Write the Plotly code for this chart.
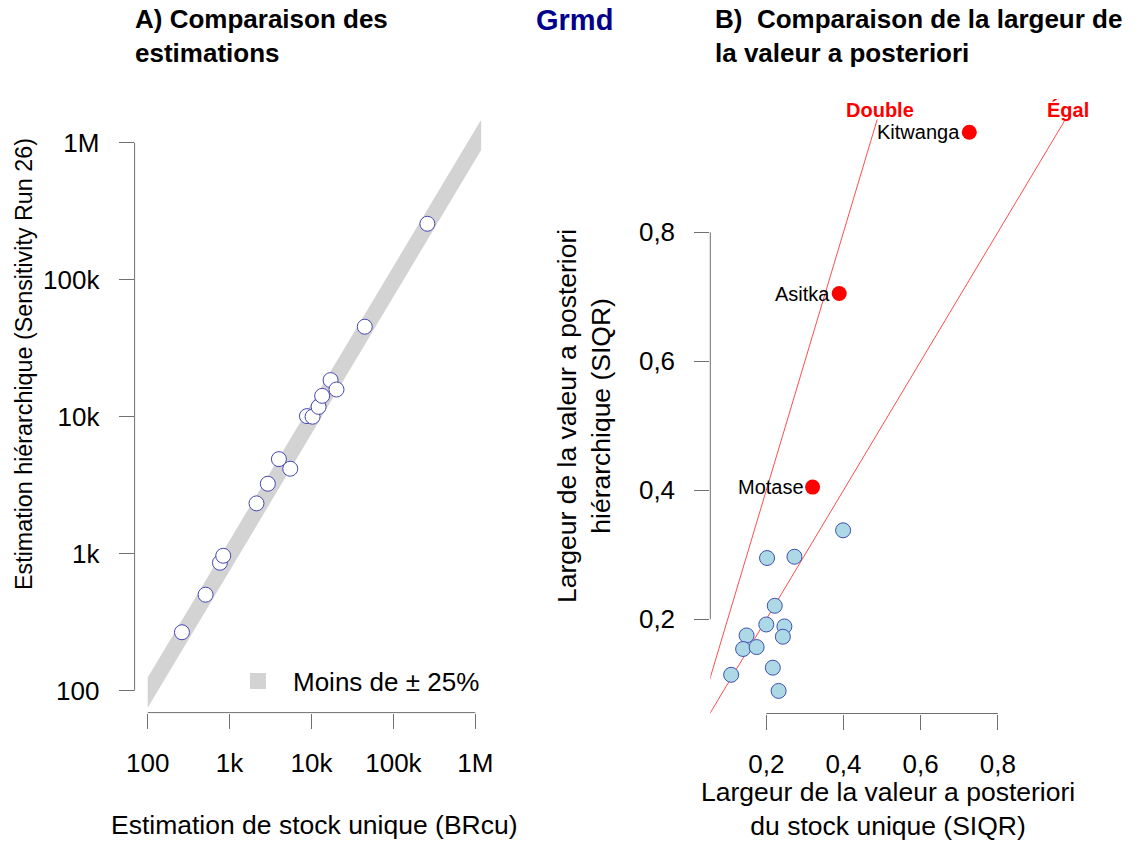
import plotly.graph_objects as go

# ---------------- Data ----------------
# Panel A: single-stock vs hierarchical estimates
single_est = [262, 509, 762, 836, 2130, 2930, 4000, 5500, 8800, 10300,
              12200, 13500, 17100, 20200, 44700, 260000]
hier_est = [267, 502, 859, 966, 2330, 3240, 4900, 4170, 10100, 10000,
            11800, 14200, 18500, 15800, 45400, 256000]
band_ratio = [0.75, 1.25]          # +/- 25 %
band_x = [100, 1.18e6]
a_tickvals = [100, 1e3, 1e4, 1e5, 1e6]
a_ticktext = ["100", "1k", "10k", "100k", "1M"]

# Panel B: posterior width (SIQR)
b_x = [0.399, 0.202, 0.273, 0.222, 0.200, 0.247, 0.243, 0.149, 0.140,
       0.175, 0.217, 0.109, 0.232]
b_y = [0.338, 0.295, 0.297, 0.221, 0.192, 0.189, 0.173, 0.175, 0.154,
       0.157, 0.125, 0.114, 0.089]
hi_names = ["Kitwanga", "Asitka", "Motase"]
hi_x = [0.726, 0.389, 0.320]
hi_y = [0.955, 0.705, 0.405]
ref_names = ["Égal", "Double"]
ref_slopes = [1, 2]
b_tickvals = [0.2, 0.4, 0.6, 0.8]
b_ticktext = ["0,2", "0,4", "0,6", "0,8"]

FONT = "Liberation Sans, Arial, sans-serif"
AXC = "#707070"
W, H = 1135, 841

a_xrange = [1.84, 6.16]
a_yrange = [1.84, 6.16]
b_xrange = [0.055, 0.976]
b_yrange = [0.054, 0.975]

fig = go.Figure()

# grey +/-25% band
bx = [band_x[0], band_x[1], band_x[1], band_x[0], band_x[0]]
by = [band_x[0] * band_ratio[1], band_x[1] * band_ratio[1],
      band_x[1] * band_ratio[0], band_x[0] * band_ratio[0],
      band_x[0] * band_ratio[1]]
fig.add_trace(go.Scatter(x=bx, y=by, mode="lines", fill="toself",
                         fillcolor="#D3D3D3", line=dict(width=0, color="#D3D3D3"),
                         hoverinfo="skip", showlegend=False,
                         xaxis="x", yaxis="y"))
# legend swatch
fig.add_trace(go.Scatter(x=[None], y=[None], mode="markers",
                         marker=dict(symbol="square", size=16, color="#D3D3D3"),
                         name="Moins de ± 25%", showlegend=True,
                         xaxis="x", yaxis="y"))
fig.add_trace(go.Scatter(x=single_est, y=hier_est, mode="markers",
                         marker=dict(size=15, color="white",
                                     line=dict(color="#4646B4", width=1)),
                         showlegend=False, cliponaxis=False,
                         xaxis="x", yaxis="y"))

# Panel B reference lines
for nm, s in zip(ref_names, ref_slopes):
    fig.add_trace(go.Scatter(x=[0, 1.2], y=[0, 1.2 * s], mode="lines",
                             line=dict(color="rgba(255,0,0,0.7)", width=1),
                             showlegend=False, name=nm, xaxis="x2", yaxis="y2"))
fig.add_trace(go.Scatter(x=b_x, y=b_y, mode="markers",
                         marker=dict(size=15, color="#ADD8E6",
                                     line=dict(color="#3F4FB0", width=1)),
                         showlegend=False, cliponaxis=False,
                         xaxis="x2", yaxis="y2"))
fig.add_trace(go.Scatter(x=hi_x, y=hi_y, mode="markers",
                         marker=dict(size=15, color="red",
                                     line=dict(color="red", width=0)),
                         showlegend=False, cliponaxis=False,
                         xaxis="x2", yaxis="y2"))

ax_common = dict(showgrid=False, zeroline=False, showline=False,
                 ticks="outside", ticklen=15, tickwidth=1, tickcolor=AXC,
                 tickfont=dict(family=FONT, size=26, color="black"))

fig.update_layout(
    width=W, height=H,
    margin=dict(l=0, r=0, t=0, b=0, autoexpand=False),
    paper_bgcolor="white", plot_bgcolor="white",
    font=dict(family=FONT, color="black"),
    xaxis=dict(type="log", domain=[134.6 / W, 488.4 / W], range=a_xrange,
               tickvals=a_tickvals, ticktext=a_ticktext, anchor="y",
               ticklabelstandoff=12, **ax_common),
    yaxis=dict(type="log", domain=[1 - 712.6 / H, 1 - 120.8 / H], range=a_yrange,
               tickvals=a_tickvals, ticktext=a_ticktext, anchor="x",
               ticklabelstandoff=14, **ax_common),
    xaxis2=dict(domain=[710.3 / W, 1065.8 / W], range=b_xrange,
                tickvals=b_tickvals, ticktext=b_ticktext, anchor="y2",
                ticklabelstandoff=12, **ax_common),
    yaxis2=dict(domain=[1 - 713.5 / H, 1 - 119.4 / H], range=b_yrange,
                tickvals=b_tickvals, ticktext=b_ticktext, anchor="x2",
                ticklabelstandoff=14, **ax_common),
    legend=dict(x=223 / W, y=1 - 681 / H, xanchor="left", yanchor="middle",
                itemwidth=60, bgcolor="rgba(0,0,0,0)",
                font=dict(family=FONT, size=26, color="black")),
)

# axis lines spanning first to last tick (base-R style)
shapes = [
    dict(type="line", xref="x", yref="y domain", x0=a_tickvals[0], x1=a_tickvals[-1], y0=0, y1=0),
    dict(type="line", xref="x domain", yref="y", x0=0, x1=0, y0=a_tickvals[0], y1=a_tickvals[-1]),
    dict(type="line", xref="x2", yref="y2 domain", x0=b_tickvals[0], x1=b_tickvals[-1], y0=0, y1=0),
    dict(type="line", xref="x2 domain", yref="y2", x0=0, x1=0, y0=b_tickvals[0], y1=b_tickvals[-1]),
]
for s in shapes:
    s["line"] = dict(color=AXC, width=1)
fig.update_layout(shapes=shapes)

ann = []
# titles
ann.append(dict(text="<b>A) Comparaison des<br>estimations</b>", x=133 / W, y=1 - 36 / H,
                xref="paper", yref="paper", xanchor="left", yanchor="middle", align="left",
                showarrow=False, font=dict(family=FONT, size=26, color="black")))
ann.append(dict(text="<b>B)\u00a0 Comparaison de la largeur de<br>la valeur a posteriori</b>",
                x=713 / W, y=1 - 36 / H, xref="paper", yref="paper",
                xanchor="left", yanchor="middle", align="left",
                showarrow=False, font=dict(family=FONT, size=26, color="black")))
ann.append(dict(text="<b>Grmd</b>", x=574 / W, y=1 - 20 / H, xref="paper", yref="paper",
                xanchor="center", yanchor="middle", showarrow=False,
                font=dict(family=FONT, size=29, color="#00008B")))
# axis titles
ann.append(dict(text="Estimation de stock unique (BRcu)", x=314 / W, y=1 - 825 / H,
                xref="paper", yref="paper", xanchor="center", yanchor="middle",
                showarrow=False, font=dict(family=FONT, size=26.5, color="black")))
ann.append(dict(text="Estimation hiérarchique (Sensitivity Run 26)", x=24 / W, y=1 - 364 / H,
                xref="paper", yref="paper", xanchor="center", yanchor="middle",
                textangle=-90, showarrow=False,
                font=dict(family=FONT, size=23.3, color="black")))
ann.append(dict(text="Largeur de la valeur a posteriori<br>du stock unique (SIQR)",
                x=888 / W, y=1 - 809 / H, xref="paper", yref="paper",
                xanchor="center", yanchor="middle", showarrow=False,
                font=dict(family=FONT, size=26.5, color="black")))
ann.append(dict(text="Largeur de la valeur a posteriori<br>hiérarchique (SIQR)",
                x=584 / W, y=1 - 416 / H, xref="paper", yref="paper",
                xanchor="center", yanchor="middle", textangle=-90, showarrow=False,
                font=dict(family=FONT, size=26.5, color="black")))
# labels of highlighted stocks
for nm, xv, yv in zip(hi_names, hi_x, hi_y):
    ann.append(dict(text=nm, x=xv, y=yv, xref="x2", yref="y2", xanchor="right",
                    yanchor="middle", xshift=-7, showarrow=False,
                    font=dict(family=FONT, size=20, color="black")))
# reference line labels at top end of each line (panel B)
for nm, s in zip(ref_names, ref_slopes):
    ann.append(dict(text="<b>" + nm + "</b>", x=b_yrange[1] / s - 0.005, y=b_yrange[1],
                    xref="x2", yref="y2", xanchor="center", yanchor="middle",
                    xshift=5, yshift=9, showarrow=False,
                    font=dict(family=FONT, size=20, color="red")))
fig.update_layout(annotations=ann)

fig.write_html("out.html", config={"displayModeBar": False},
               post_script="document.body.style.margin='0';document.body.style.overflow='hidden';")
